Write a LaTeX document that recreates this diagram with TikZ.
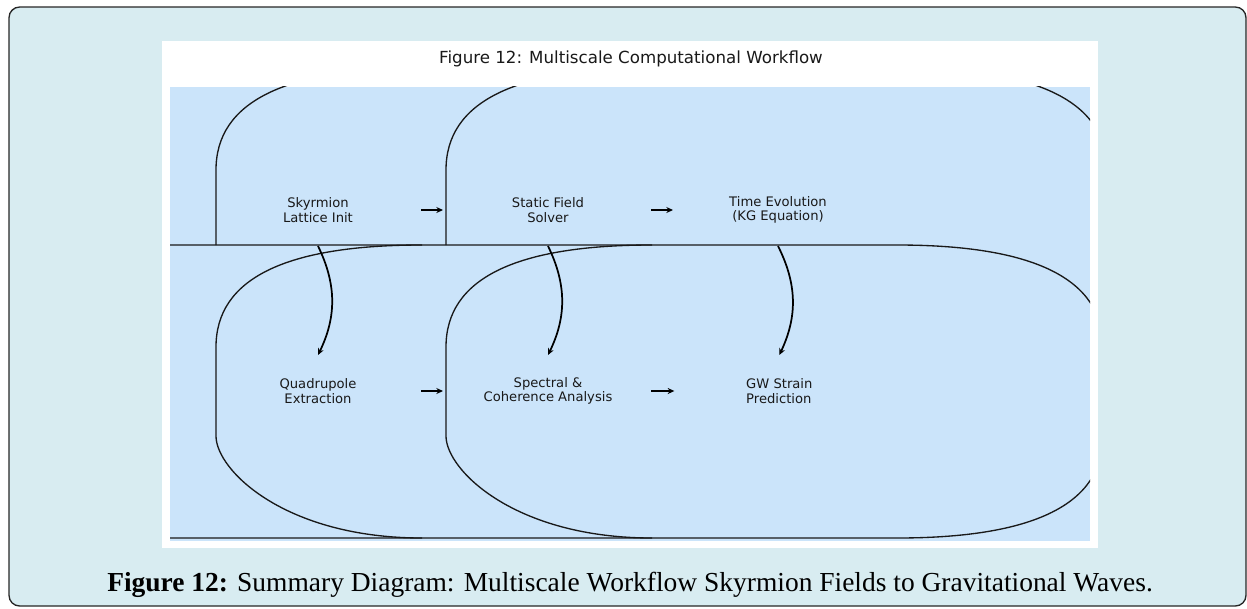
\documentclass[tikz,border=0pt]{standalone}
\usepackage{fontspec}
\setmainfont{DejaVu Sans}
\newfontfamily\capfont{Liberation Serif}
\usetikzlibrary{positioning,arrows.meta}
\definecolor{framebg}{RGB}{216,236,241}
\definecolor{boxblue}{RGB}{203,228,250}
\tikzset{
	stage/.style={align=center,font=\fontsize{9.85}{10.7}\selectfont,text=black!90},
	flow/.style={-{Stealth[length=5pt,width=4.5pt]},line width=1.3pt},
	outline/.style={line width=1pt,draw=black!90}
}

\begin{document}
\begin{tikzpicture}[x=0.75pt,y=-0.75pt,node distance=172.5pt]
		\useasboundingbox (0,0) rectangle (1247,608);
		\draw[fill=framebg,draw=black!85,line width=1pt,rounded corners=8pt] (9,7) rectangle (1246,606);
		\fill[white] (162,41) rectangle (1098,548);
		\fill[boxblue] (170,86.5) rectangle (1090,541);
		
		\node (title) at (631,63.3) [anchor=base,font=\fontsize{12.5}{14}\selectfont,text=black!90] {Figure 12: Multiscale Computational Workflow};
		
		% rounded stage boxes, cut off by the plot area
		\begin{scope}[outline]
		\clip (170,86.5) rectangle (1090,541);
		\draw (216,245) -- (216,170) .. controls (216,102) and (284.7,68) .. (422,68);
		\draw (446,245) -- (446,170) .. controls (446,102) and (514.7,68) .. (652,68);
		\draw (901,68) .. controls (1038.3,68) and (1107,102) .. (1107,170);
		\draw (160,245) -- (897,245) .. controls (1034.3,245) and (1103,279) .. (1103,347);
		\draw (422,245) .. controls (284.7,245) and (216,279) .. (216,347) -- (216,436) .. controls (216,470) and (284.7,538) .. (422,538);
		\draw (652,245) .. controls (514.7,245) and (446,279) .. (446,347) -- (446,436) .. controls (446,470) and (514.7,538) .. (652,538);
		\draw (160,538) -- (897,538) .. controls (1034.3,538) and (1103,504) .. (1103,436);
		\end{scope}
		
		\node[stage] (init) at (318,210) {Skyrmion\\Lattice Init};
		\node[stage] (solver) [right of = init] {Static Field\\Solver};
		\node[stage] (evolve) [right of = solver] {Time Evolution\\(KG Equation)};
		\begin{scope}[node distance=135.75pt]
		\node[stage] (quad) [below of = init] {Quadrupole\\Extraction};
		\node[stage] (spectral) [below of = solver] {Spectral \&\\Coherence Analysis};
		\node[stage,align=left] (strain) [below of = evolve, xshift=1pt] {GW Strain\\Prediction};
		\end{scope}
		
		\draw[flow,shorten <=77.25pt,shorten >=78.75pt] (init.center) -- (solver.center);
		\draw[flow,shorten <=77.25pt,shorten >=78.75pt] (solver.center) -- (evolve.center);
		\draw[flow,shorten <=77.25pt,shorten >=78.75pt] (quad.center) -- (spectral.center);
		\draw[flow,shorten <=77.25pt,shorten >=78.75pt] (spectral.center) -- (strain.center);
		
		\draw[flow] ([yshift=-27pt]init.center) to[bend left=26] ([yshift=27pt]quad.center);
		\draw[flow] ([yshift=-27pt]solver.center) to[bend left=26] ([yshift=27pt]spectral.center);
		\draw[flow] ([yshift=-27pt]evolve.center) to[bend left=26] ([yshift=27pt]strain.center);
		
		\node (caption) at (630,591) [anchor=base,font=\capfont\fontsize{20.6}{24}\selectfont,text=black] {\textbf{Figure 12:} Summary Diagram: Multiscale Workflow Skyrmion Fields to Gravitational Waves.};
\end{tikzpicture}
\end{document}
